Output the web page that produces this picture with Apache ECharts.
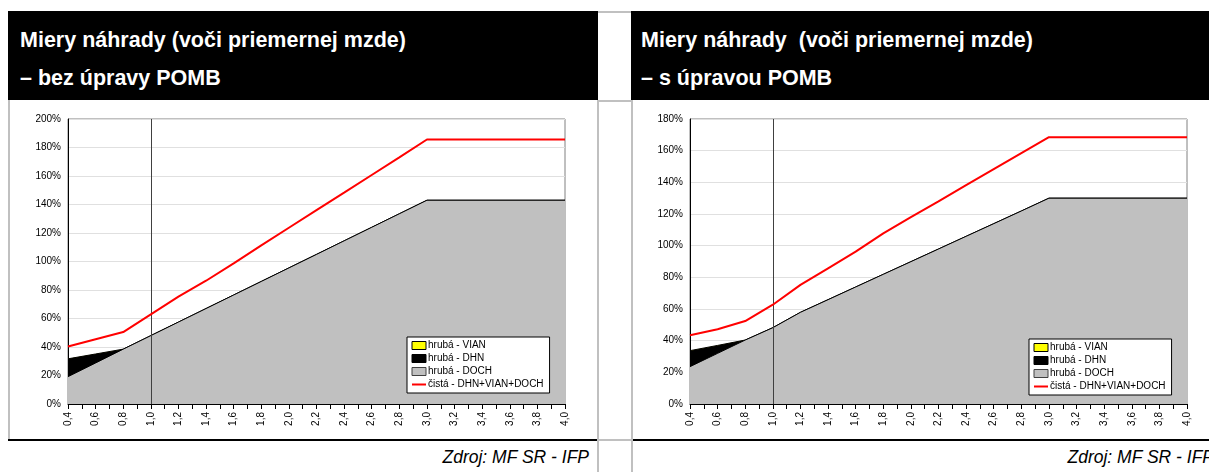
<!DOCTYPE html>
<html>
<head>
<meta charset="utf-8">
<script src="https://cdn.jsdelivr.net/npm/echarts@6/dist/echarts.min.js"></script>
<style>
  body { margin: 0; width: 1209px; height: 472px; overflow: hidden; background: #fff; position: relative; font-family: "Liberation Sans", Arial, sans-serif; }
  .abs { position: absolute; }
  .bar { background: #000; top: 11px; height: 89px; }
  .ttl { position: absolute; color: #fff; font-weight: bold; font-size: 21.5px; line-height: 24px; white-space: pre; }
  .gray { background: #c0c0c0; }
  .black { background: #000; }
  .src { position: absolute; top: 447px; font-style: italic; font-size: 17.5px; line-height: 20px; color: #000; white-space: pre; text-align: right; }
  #chart { position: absolute; left: 0; top: 0; width: 1209px; height: 472px; }
</style>
</head>
<body>
  <!-- left panel frame -->
  <div class="abs bar" style="left:8px; width:590px;">
    <div class="ttl" style="left:12px; top:17px;">Miery náhrady (voči priemernej mzde)</div>
    <div class="ttl" style="left:12px; top:55px;">– bez úpravy POMB</div>
  </div>
  <div class="abs gray" style="left:8px; top:100px; width:2px; height:340px;"></div>
  <div class="abs black" style="left:8px; top:439px; width:589px; height:2px;"></div>
  <div class="src" style="right:620px;">Zdroj: MF SR - IFP</div>

  <!-- gap between panels -->
  <div class="abs gray" style="left:598px; top:11px; width:33px; height:2px;"></div>
  <div class="abs gray" style="left:597px; top:100px; width:36px; height:2px;"></div>
  <div class="abs gray" style="left:597px; top:100px; width:2px; height:372px;"></div>
  <div class="abs gray" style="left:631px; top:100px; width:2px; height:372px;"></div>
  <div class="abs gray" style="left:597px; top:439px; width:36px; height:2px;"></div>

  <!-- right panel frame -->
  <div class="abs bar" style="left:631px; width:578px;">
    <div class="ttl" style="left:10px; top:17px;">Miery náhrady  (voči priemernej mzde)</div>
    <div class="ttl" style="left:10px; top:55px;">– s úpravou POMB</div>
  </div>
  <div class="abs black" style="left:633px; top:439px; width:576px; height:2px;"></div>
  <div class="src" style="right:-5px;">Zdroj: MF SR - IFP</div>

  <div id="chart"></div>

<script>
// násobok priemernej mzdy
const xValues = [0.4, 0.6, 0.8, 1.0, 1.2, 1.4, 1.6, 1.8, 2.0, 2.2, 2.4, 2.6, 2.8, 3.0, 4.0]

// bez úpravy POMB (%)
const leftDoch = [19.2, 28.8, 38.5, 48.0, 57.5, 67.0, 76.5, 86.0, 95.5, 105.0, 114.5, 124.0, 133.5, 143.0, 143.0]
const leftDhn  = [12.5, 6.3, 0, 0, 0, 0, 0, 0, 0, 0, 0, 0, 0, 0, 0]
const leftVian = [0, 0, 0, 0, 0, 0, 0, 0, 0, 0, 0, 0, 0, 0, 0]
const leftNet  = [40.3, 45.4, 50.5, 62.9, 75.3, 86.5, 98.7, 111.3, 123.7, 136.0, 148.3, 160.7, 173.1, 185.6, 185.6]

// s úpravou POMB (%)
const rightDoch = [23.6, 32.0, 40.4, 48.2, 57.9, 65.9, 73.9, 81.9, 89.9, 97.9, 105.9, 113.9, 121.9, 130.0, 130.0]
const rightDhn  = [10.1, 5.0, 0, 0, 0, 0, 0, 0, 0, 0, 0, 0, 0, 0, 0]
const rightVian = [0, 0, 0, 0, 0, 0, 0, 0, 0, 0, 0, 0, 0, 0, 0]
const rightNet  = [43.4, 47.2, 52.4, 62.7, 75.2, 85.7, 96.2, 107.8, 118.0, 128.0, 138.2, 148.3, 158.4, 168.5, 168.5]

const leftYMax = 200
const rightYMax = 180
const yStep = 20
const avgWage = 1.0

const seriesNames = ['hrubá - VIAN', 'hrubá - DHN', 'hrubá - DOCH', 'čistá - DHN+VIAN+DOCH']

const font = '"Liberation Sans", Arial, sans-serif'

const pairs = arr => xValues.map((x, i) => [x, arr[i]])
// stacked tops (DOCH at the bottom, then DHN, then VIAN), like Excel's stacked area
const addUp = (...arrs) => xValues.map((x, i) => arrs.reduce((s, a) => s + a[i], 0))

const makeXAxis = gridIndex => ({
  type: 'value',
  gridIndex,
  min: 0.4,
  max: 4.0,
  interval: 0.2,
  axisLine: { lineStyle: { color: '#000', width: 1 } },
  axisTick: { length: 5, lineStyle: { color: '#000' } },
  minorTick: { show: true, splitNumber: 2, length: 5, lineStyle: { color: '#000' } },
  splitLine: { show: false },
  axisLabel: {
    rotate: 90,
    margin: 8,
    fontSize: 10,
    fontFamily: font,
    color: '#000',
    formatter: v => v.toFixed(1).replace('.', ',')
  }
})

const makeYAxis = (gridIndex, max) => ({
  type: 'value',
  gridIndex,
  min: 0,
  max,
  interval: yStep,
  axisLine: { show: true, lineStyle: { color: '#000', width: 1 } },
  axisTick: { show: false },
  splitLine: { lineStyle: { color: '#e0e0e0', width: 1 } },
  axisLabel: {
    margin: 7,
    fontSize: 10,
    fontFamily: font,
    color: '#000',
    formatter: '{value}%'
  }
})

const makeSeries = (idx, doch, dhn, vian, net) => [
  {
    name: 'hrubá - VIAN',
    type: 'line',
    xAxisIndex: idx,
    yAxisIndex: idx,
    data: pairs(addUp(doch, dhn, vian)),
    symbol: 'none',
    itemStyle: { color: '#ffff00' },
    lineStyle: { width: 0 },
    areaStyle: { color: '#ffff00', opacity: 1 },
    z: 1
  },
  {
    name: 'hrubá - DHN',
    type: 'line',
    xAxisIndex: idx,
    yAxisIndex: idx,
    data: pairs(addUp(doch, dhn)),
    symbol: 'none',
    itemStyle: { color: '#000' },
    lineStyle: { color: '#000', width: 1 },
    areaStyle: { color: '#000', opacity: 1 },
    z: 2
  },
  {
    name: 'hrubá - DOCH',
    type: 'line',
    xAxisIndex: idx,
    yAxisIndex: idx,
    data: pairs(doch),
    symbol: 'none',
    itemStyle: { color: '#c0c0c0' },
    lineStyle: { color: '#000', width: 1 },
    areaStyle: { color: '#c0c0c0', opacity: 1 },
    z: 3
  },
  {
    name: 'čistá - DHN+VIAN+DOCH',
    type: 'line',
    xAxisIndex: idx,
    yAxisIndex: idx,
    data: pairs(net),
    symbol: 'none',
    itemStyle: { color: '#ff0000' },
    lineStyle: { color: '#ff0000', width: 2 },
    z: 5,
    markLine: {
      silent: true,
      symbol: ['none', 'none'],
      label: { show: false },
      lineStyle: { color: '#404040', width: 1, type: 'solid' },
      data: [{ xAxis: avgWage }]
    }
  }
]

const makeLegend = (left, top) => ({
  orient: 'vertical',
  left,
  top,
  padding: [3, 6, 3, 4],
  itemGap: 2,
  itemWidth: 14,
  itemHeight: 8,
  borderColor: '#000',
  borderWidth: 1,
  borderRadius: 0,
  backgroundColor: '#fff',
  textStyle: { fontSize: 10, fontFamily: font, color: '#000', lineHeight: 11, padding: [0, 0, 0, -3] },
  data: [
    { name: seriesNames[0], icon: 'rect', itemStyle: { color: '#ffff00', borderColor: '#000', borderWidth: 1 } },
    { name: seriesNames[1], icon: 'rect', itemStyle: { color: '#000', borderColor: '#000', borderWidth: 1 } },
    { name: seriesNames[2], icon: 'rect', itemStyle: { color: '#c0c0c0', borderColor: '#404040', borderWidth: 1 } },
    { name: seriesNames[3], itemStyle: { opacity: 0 } }
  ]
})

const chart = echarts.init(document.getElementById('chart'), null, { renderer: 'canvas' })

const option = {
  backgroundColor: 'transparent',
  animation: false,
  grid: [
    { left: 68, top: 119, width: 497, height: 285, show: true, borderColor: '#808080', borderWidth: 1, backgroundColor: 'transparent', outerBoundsMode: 'none' },
    { left: 690, top: 119, width: 497, height: 285, show: true, borderColor: '#808080', borderWidth: 1, backgroundColor: 'transparent', outerBoundsMode: 'none' }
  ],
  xAxis: [makeXAxis(0), makeXAxis(1)],
  yAxis: [makeYAxis(0, leftYMax), makeYAxis(1, rightYMax)],
  legend: [makeLegend(407, 337), makeLegend(1029, 339)],
  series: [
    ...makeSeries(0, leftDoch, leftDhn, leftVian, leftNet),
    ...makeSeries(1, rightDoch, rightDhn, rightVian, rightNet)
  ]
}

chart.setOption(option)
</script>
</body>
</html>
